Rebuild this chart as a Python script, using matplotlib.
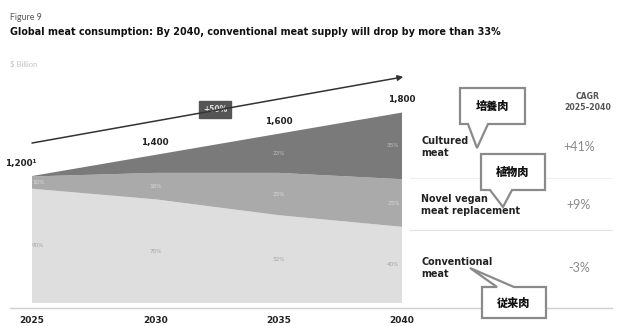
import matplotlib
matplotlib.use("Agg")
import matplotlib.pyplot as plt
from matplotlib.patches import Polygon

# ---- data ----
years = [2025, 2030, 2035, 2040]
cultured = [4, 170, 370, 630]
vegan = [116, 250, 400, 450]
conventional = [1080, 980, 830, 720]
total_labels = ["1,200¹", "1,400", "1,600", "1,800"]
segments = ["Cultured\nmeat", "Novel vegan\nmeat replacement", "Conventional\nmeat"]
cagr = ["+41%", "+9%", "-3%"]
growth_label = "+50%"
jp_labels = ["培養肉", "植物肉", "従来肉"]

W, H = 619, 326
fig = plt.figure(figsize=(W / 100, H / 100), dpi=100)
fig.patch.set_facecolor("white")

FONT = ["DejaVu Sans"]
LIGHT = ["Lato", "DejaVu Sans"]
JP = ["Noto Sans CJK JP", "DejaVu Sans"]

# pixel-space overlay
ov = fig.add_axes([0, 0, 1, 1])
ov.set_xlim(0, W)
ov.set_ylim(H, 0)
ov.axis("off")

# data axes: x 2025->px32, 2040->px402 ; y 0->px303
x0p, x1p = 32, 402
y0p = 303
scale = 0.1058  # px per unit
ymax = 2300
ax = fig.add_axes([x0p / W, (H - y0p) / H, (x1p - x0p) / W, ymax * scale / H])
ax.set_xlim(2025, 2040)
ax.set_ylim(0, ymax)
ax.axis("off")

c_cult, c_veg, c_conv = "#7a7a7a", "#aaaaaa", "#dedede"
ax.stackplot(years, conventional, vegan, cultured,
             colors=[c_conv, c_veg, c_cult], linewidth=0)

totals = [a + b + c for a, b, c in zip(cultured, vegan, conventional)]
for i, (yr, tot, lab) in enumerate(zip(years, totals, total_labels)):
    xx = yr - 0.45 if i == 0 else yr
    ax.text(xx, tot + 120, lab, ha="center", va="center", fontsize=6.3,
            fontweight="bold", color="#222", family=FONT, clip_on=False)

# in-band percentage labels
for i, yr in enumerate(years):
    t = totals[i]
    xx = yr + 0.25 if i == 0 else (yr - 0.35 if i == 3 else yr)
    ax.text(xx, conventional[i] * 0.5, f"{round(conventional[i] / t * 100)}%",
            ha="center", va="center", fontsize=4.5, color="#a5a5a5", family=LIGHT)
    ax.text(xx, conventional[i] + vegan[i] * 0.5, f"{round(vegan[i] / t * 100)}%",
            ha="center", va="center", fontsize=4.5, color="#d8d8d8", family=LIGHT)
    if i >= 2:
        ax.text(xx, conventional[i] + vegan[i] + cultured[i] * 0.5,
                f"{round(cultured[i] / t * 100)}%", ha="center", va="center",
                fontsize=4.5, color="#bdbdbd", family=LIGHT)

# growth arrow
ax.annotate("", xy=(2040.05, 2137), xytext=(2025, 1512),
            arrowprops=dict(arrowstyle="-|>", color="#333", lw=1.1,
                            mutation_scale=8, shrinkA=0, shrinkB=0),
            annotation_clip=False)
ov.text(215, 109.5, growth_label, ha="center", va="center", fontsize=5.5,
        color="#dddddd", family=FONT, fontweight="bold",
        bbox=dict(boxstyle="square,pad=0.55", fc="#555", ec="#555"))

# titles
ov.text(10, 17, "Figure 9", fontsize=6.3, color="#555", family=LIGHT, va="center")
ov.text(10, 32, "Global meat consumption: By 2040, conventional meat supply will drop by more than 33%",
        fontsize=6.95, fontweight="bold", color="#111", family=FONT, va="center")
ov.text(10, 64, "$ Billion", fontsize=5.5, color="#c4c4c4", family=LIGHT, va="center")

# bottom axis line and separators
ov.plot([10, 612], [308, 308], color="#cfcfcf", lw=1)
ov.plot([410, 612], [178, 178], color="#f0f0f0", lw=0.8)
ov.plot([410, 612], [230, 230], color="#e2e2e2", lw=0.8)

# x tick labels near the bottom edge
for yr in years:
    px = x0p + (yr - 2025) / 15 * (x1p - x0p)
    ov.text(px, 316, str(yr), ha="center", va="top", fontsize=6.5,
            fontweight="bold", color="#222", family=FONT)

# right-hand legend
seg_y = [147, 205, 268]
for s, c, yy in zip(segments, cagr, seg_y):
    ov.text(421, yy, s, ha="left", va="center", fontsize=6.9, fontweight="bold",
            color="#222", family=FONT, linespacing=1.3)
    ov.text(579, yy, c, ha="center", va="center", fontsize=9,
            color="#8a8a8a", family=LIGHT)
ov.text(588, 102, "CAGR\n2025–2040", ha="center", va="center", fontsize=5.6,
        fontweight="bold", color="#555", family=FONT, linespacing=1.25)

# callouts
def callout(box, tip, base, text):
    x0, y0, x1, y1 = box
    bx0, bx1 = base
    if tip[1] > y1:  # pointer down from bottom edge
        pts = [(x0, y0), (x1, y0), (x1, y1), (bx1, y1), tip, (bx0, y1), (x0, y1)]
    else:  # pointer up from top edge
        pts = [(x0, y0), (bx0, y0), tip, (bx1, y0), (x1, y0), (x1, y1), (x0, y1)]
    ov.add_patch(Polygon(pts, closed=True, fc="white", ec="#8a8a8a", lw=1.6,
                         joinstyle="miter", zorder=5))
    ov.text((x0 + x1) / 2, (y0 + y1) / 2, text, ha="center", va="center",
            fontsize=8, fontweight="black", color="#111", family=JP, zorder=6)

callout((460, 88, 525, 124), (477, 148), (468, 488), jp_labels[0])
callout((481, 154, 545, 190), (503, 207), (490, 512), jp_labels[1])
callout((482, 287, 546, 318), (470, 268), (497, 514), jp_labels[2])

fig.savefig("out.png", dpi=100, facecolor="white")
